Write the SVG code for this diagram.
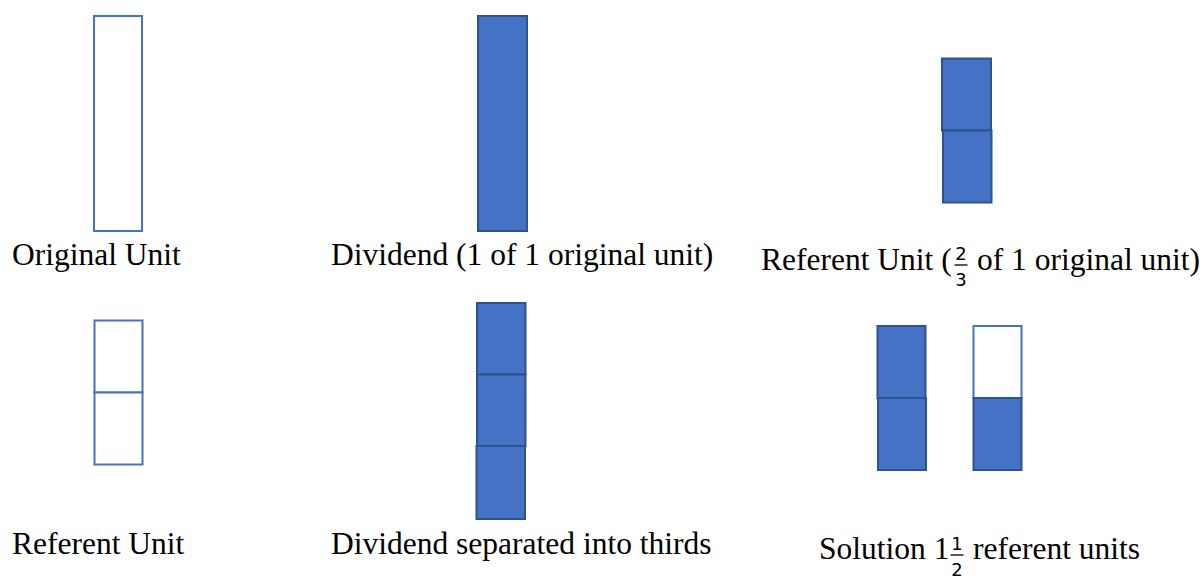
<svg xmlns="http://www.w3.org/2000/svg" width="1204" height="578" viewBox="0 0 1204 578">
  <style>
    .outline { fill: #ffffff; stroke: #4472C4; stroke-width: 2; }
    .solid { fill: #4472C4; stroke: #2F528F; stroke-width: 2; }
    .label { font-family: "Liberation Serif", "Times New Roman", serif; font-size: 31.5px; fill: #000000; }
    .frac { font-family: "DejaVu Sans", "Noto Sans", sans-serif; font-size: 18px; fill: #000000; }
    .bar { stroke: #000000; stroke-width: 1.3; }
  </style>
  <rect width="1204" height="578" fill="#ffffff"/>

  <!-- Original unit: one empty whole bar -->
  <g id="original-unit">
    <rect class="outline" x="94" y="16" width="48" height="215"/>
    <text class="label" x="12" y="265">Original Unit</text>
  </g>

  <!-- Dividend: the whole bar shaded -->
  <g id="dividend">
    <rect class="solid" x="478" y="16" width="49" height="215"/>
    <text class="label" x="331" y="265">Dividend (1 of 1 original unit)</text>
  </g>

  <!-- Referent unit: two shaded thirds -->
  <g id="referent-unit-shaded">
    <rect class="solid" x="942" y="58.5" width="49" height="72"/>
    <rect class="solid" x="943" y="130.5" width="48.5" height="72"/>
    <text class="label" x="761" y="270">Referent Unit (</text>
    <text class="frac" x="961" y="260" text-anchor="middle">2</text>
    <line class="bar" x1="954.5" y1="265" x2="967.5" y2="265"/>
    <text class="frac" x="961" y="286" text-anchor="middle">3</text>
    <text class="label" x="977" y="270">of 1 original unit)</text>
  </g>

  <!-- Referent unit: two empty thirds -->
  <g id="referent-unit-empty">
    <rect class="outline" x="94.5" y="320.5" width="48" height="72"/>
    <rect class="outline" x="94.5" y="392.5" width="48" height="72"/>
    <text class="label" x="12" y="554">Referent Unit</text>
  </g>

  <!-- Dividend split into three shaded thirds -->
  <g id="dividend-thirds">
    <rect class="solid" x="477" y="303" width="48.5" height="71.5"/>
    <rect class="solid" x="477" y="374.5" width="48.5" height="71.5"/>
    <rect class="solid" x="476.5" y="446" width="48.5" height="73"/>
    <text class="label" x="331" y="554">Dividend separated into thirds</text>
  </g>

  <!-- Solution: one full referent unit plus half of another -->
  <g id="solution">
    <rect class="solid" x="877.5" y="326" width="48" height="72"/>
    <rect class="solid" x="878" y="398" width="48" height="72"/>
    <rect class="outline" x="973.5" y="326" width="48" height="72"/>
    <rect class="solid" x="973.5" y="398" width="48" height="72"/>
    <text class="label" x="819" y="559">Solution 1</text>
    <text class="frac" x="957" y="550" text-anchor="middle">1</text>
    <line class="bar" x1="950.5" y1="555" x2="963.5" y2="555"/>
    <text class="frac" x="957" y="576" text-anchor="middle">2</text>
    <text class="label" x="973" y="559">referent units</text>
  </g>
</svg>
